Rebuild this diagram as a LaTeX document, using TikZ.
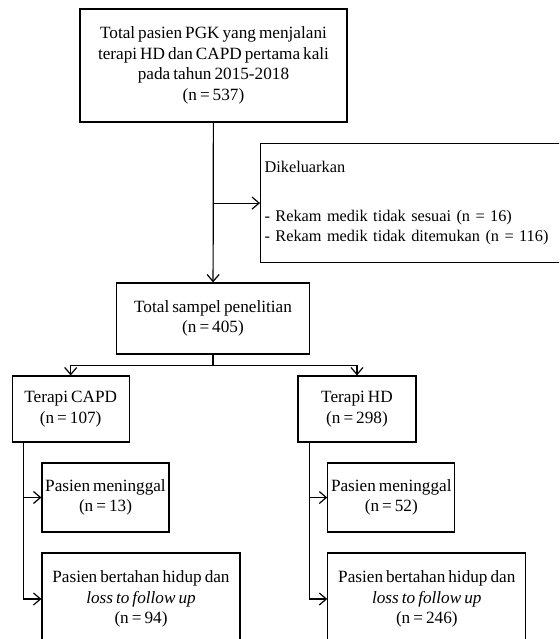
\documentclass[tikz,border=0pt]{standalone}
\usepackage{fontspec}
\setmainfont[WordSpace=0.7]{Liberation Serif}
\usetikzlibrary{arrows.meta,positioning}
\tikzset{box/.style={rectangle,draw=black,line width=1.2pt,inner sep=0pt,align=center}}
\tikzset{every node/.style={font=\fontsize{17.2}{20.7}\selectfont}}

\begin{document}
\begin{tikzpicture}[x=1pt,y=-1pt,line width=1.2pt,>={Straight Barb[length=7pt,width=12pt]}]
\useasboundingbox (0,0) rectangle (559,639);
\clip (0,0) rectangle (559,639);
% \draw[help lines] (0,0) grid[step=50] (559,639);
\node (total) [box,minimum width=267pt,minimum height=113pt] at (213.5,65.5)
  {Total pasien PGK yang menjalani\\terapi HD dan CAPD pertama kali\\pada tahun 2015-2018\\(n = 537)};
\node (keluar) [box,anchor=north west,text width=330pt,minimum height=119pt,inner sep=4pt,align=left,
  font=\fontsize{16.3}{20.2}\selectfont] at (260,143)
  {Dikeluarkan\\[28pt]- Rekam medik tidak sesuai (n = 16)\\- Rekam medik tidak ditemukan (n = 116)};
\node (sampel) [box,minimum width=193pt,minimum height=71pt] at (213,318.5)
  {Total sampel penelitian\\(n = 405)};
%
\node (capd) [box,minimum width=117pt,minimum height=66pt] at (70.7,409) {Terapi CAPD\\(n = 107)};
\node (hd) [box,minimum width=118pt,minimum height=66pt] at (357,409) {Terapi HD\\(n = 298)};
%
\node (matiC) [box,minimum width=127pt,minimum height=69pt] at (105.5,497.5) {Pasien meninggal\\(n = 13)};
\node (hidupC) [box,minimum width=198pt,minimum height=92pt] at (141,599)
  {Pasien bertahan hidup dan\\\textit{loss to follow up}\\(n = 94)};
\node (matiH) [box,minimum width=127pt,minimum height=69pt] at (391.3,497.5) {Pasien meninggal\\(n = 52)};
\node (hidupH) [box,minimum width=198pt,minimum height=92pt] at (426.8,599)
  {Pasien bertahan hidup dan\\\textit{loss to follow up}\\(n = 246)};
%
\coordinate (k) at (total.south |- keluar.west);
\coordinate (split) at (213,365.7);
\coordinate (capdL) at ([xshift=12pt]capd.south west);
\coordinate (hdL) at ([xshift=12pt]hd.south west);
%
\draw[->] (total) -- (sampel);
\draw[->] (k) -- (keluar.west);
\draw (sampel.south) -- (split);
\draw[->] (split) -| (capd.north);
\draw[->] (split) -| (hd.north);
\draw[->] (capdL) |- (matiC.west);
\draw[->] (capdL) |- (hidupC.west);
\draw[->] (hdL) |- (matiH.west);
\draw[->] (hdL) |- (hidupH.west);
\end{tikzpicture}
\end{document}
